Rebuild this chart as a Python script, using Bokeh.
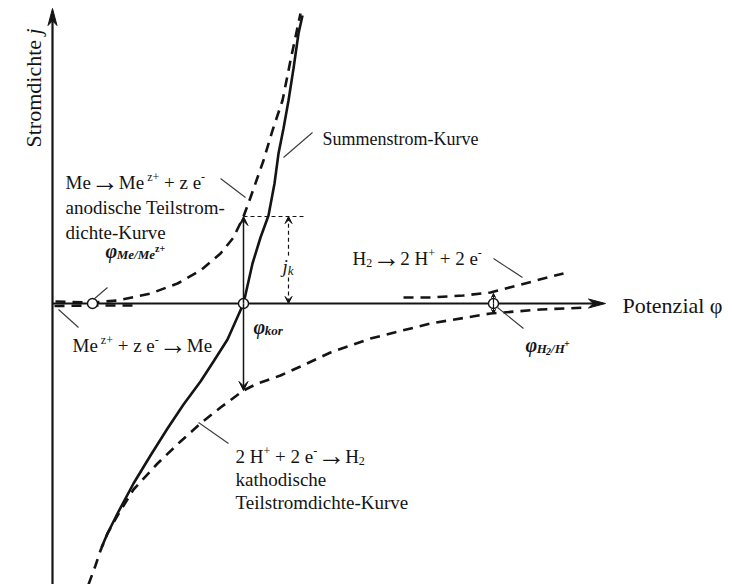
from math import pi

from bokeh.core.properties import value
from bokeh.embed import file_html
from bokeh.models import Arrow, Range1d, VeeHead
from bokeh.plotting import figure
from bokeh.resources import INLINE

# ---------------------------------------------------------------------------
# Evans diagram (schematic units: potential φ, current density j)
# ---------------------------------------------------------------------------

# equilibrium / corrosion potentials on the φ axis
phi_me = 0.40      # φ Me/Me^z+
phi_kor = 1.91     # corrosion potential
phi_h = 4.41       # φ H2/H+
j_k = 0.87         # corrosion current density

# anodic partial curve  Me -> Me^z+ + z e-
anodic_me_phi = [0.03, 0.40, 0.65, 0.98, 1.25, 1.48, 1.68, 1.81, 1.91, 1.98,
                 2.11, 2.20, 2.30, 2.38, 2.45, 2.48]
anodic_me_j = [0.02, 0.01, 0.03, 0.10, 0.20, 0.33, 0.50, 0.66, 0.87, 1.06,
               1.43, 1.73, 2.03, 2.43, 2.76, 2.90]

# cathodic partial curve  Me^z+ + z e- -> Me
cathodic_me_phi = [0.02, 0.40, 0.85]
cathodic_me_j = [-0.025, -0.02, -0.02]

# anodic partial curve  H2 -> 2 H+ + 2 e-
anodic_h_phi = [3.51, 3.78, 4.11, 4.38, 4.65, 4.91, 5.11]
anodic_h_j = [0.06, 0.06, 0.08, 0.11, 0.18, 0.25, 0.30]

# cathodic partial curve  2 H+ + 2 e- -> H2
cathodic_h_phi = [0.36, 0.43, 0.48, 0.55, 0.65, 0.81, 1.05, 1.28, 1.48, 1.68,
                  1.91, 2.05, 2.28, 2.48, 2.78, 3.18, 3.78, 4.38, 4.88, 5.35]
cathodic_h_j = [-2.81, -2.62, -2.47, -2.30, -2.12, -1.86, -1.60, -1.38, -1.20,
                -1.04, -0.87, -0.80, -0.72, -0.63, -0.49, -0.35, -0.20, -0.10,
                -0.06, -0.04]

# total (measured) current density curve
sum_phi = [0.49, 0.55, 0.65, 0.81, 0.98, 1.15, 1.31, 1.48, 1.61, 1.75, 1.91,
           2.00, 2.08, 2.16, 2.22, 2.26, 2.31, 2.36, 2.41, 2.46, 2.50]
sum_j = [-2.44, -2.30, -2.10, -1.80, -1.52, -1.25, -1.01, -0.78, -0.58, -0.36,
         0.00, 0.40, 0.66, 0.88, 1.20, 1.50, 1.75, 2.03, 2.35, 2.70, 2.88]

# axis extents
phi_min, phi_max = -0.52, 6.80
j_min, j_max = -2.81, 3.03
phi_axis_tip = 5.53
j_axis_tip = 2.95

INK = "#141414"
LEADER = "#3a3a3a"
SERIF = "Liberation Serif"
PX = 100.0  # screen pixels per data unit (both directions)

p = figure(width=732, height=584,
           x_range=Range1d(phi_min, phi_max), y_range=Range1d(j_min, j_max),
           x_axis_location=None, y_axis_location=None,
           output_backend="svg", toolbar_location=None, min_border=0)
p.outline_line_color = None
p.grid.grid_line_color = None
p.background_fill_color = "white"
p.border_fill_color = "white"

# Times-compatible advance widths (per 1000 em) for laying out rich text
WIDTHS = {
    " ": 250, "+": 564, "-": 333, "/": 278, "2": 500, "→": 1000, "φ": 560,
    "H": 722, "K": 722, "M": 889, "P": 556, "S": 556, "T": 611,
    "a": 444, "c": 444, "d": 500, "e": 444, "h": 500, "i": 278, "j": 278,
    "k": 500, "l": 278, "m": 778, "n": 500, "o": 500, "r": 333, "s": 389,
    "t": 278, "u": 500, "v": 500, "z": 444,
}


def text_width(s, size):
    return sum(WIDTHS.get(c, 500) for c in s) / 1000.0 * size


def _split(txt, size):
    # leading blanks are collapsed in SVG text, so turn them into an offset
    body = txt.lstrip(" ")
    return body, text_width(txt[:len(txt) - len(body)], size)


def rich(x, y, runs, color=INK):
    """Lay out runs (text, size_px, style, raise_px) along a baseline."""
    for txt, size, style, rise in runs:
        body, lead = _split(txt, size)
        x += lead / PX
        p.text(x=[x], y=[y + rise / PX], text=[body],
               text_font=value(SERIF), text_font_size=value(f"{size}px"),
               text_font_style=style, text_color=color,
               text_align="left", text_baseline="alphabetic")
        x += text_width(body, size) / PX


def rich_vertical(x, y, runs, color=INK):
    """Same as rich(), rotated to read bottom-to-top."""
    for txt, size, style, rise in runs:
        body, lead = _split(txt, size)
        y += lead / PX
        p.text(x=[x - rise / PX], y=[y], text=[body], angle=pi / 2,
               text_font=value(SERIF), text_font_size=value(f"{size}px"),
               text_font_style=style, text_color=color,
               text_align="left", text_baseline="alphabetic")
        y += text_width(body, size) / PX


def arrow_head(tx, ty, dx, dy, length=17, width=9):
    L = length / PX
    W = width / 2 / PX
    bx, by = tx - dx * L, ty - dy * L
    nx, ny = -dy, dx
    xs = [tx, bx + nx * W, tx - dx * L * 0.72, bx - nx * W]
    ys = [ty, by + ny * W, ty - dy * L * 0.72, by - ny * W]
    p.patch(xs, ys, fill_color=INK, line_color=INK, line_width=1)


# ---- coordinate axes -------------------------------------------------------
p.line([0, phi_axis_tip - 0.08], [0, 0], line_color=INK, line_width=2.2)
arrow_head(phi_axis_tip, 0, 1, 0)
p.line([0, 0], [j_min, j_axis_tip - 0.08], line_color=INK, line_width=2.2)
arrow_head(0, j_axis_tip, 0, 1)

# ---- partial current density curves (dashed) -------------------------------
dash = dict(line_color=INK, line_width=2.6, line_dash="10 7")
p.line(anodic_me_phi, anodic_me_j, **dash)
p.line(cathodic_me_phi, cathodic_me_j, **dash)
p.line(anodic_h_phi, anodic_h_j, **dash)
p.line(cathodic_h_phi, cathodic_h_j, **dash)

# ---- total current density curve ------------------------------------------
p.line(sum_phi, sum_j, line_color=INK, line_width=2.6)

# ---- corrosion current construction ---------------------------------------
for tip in (j_k, -j_k):
    p.add_layout(Arrow(end=VeeHead(size=9, line_color=INK, fill_color=INK, line_width=1),
                       x_start=phi_kor, y_start=0, x_end=phi_kor, y_end=tip,
                       line_color=INK, line_width=1.5))
p.line([phi_kor, phi_kor + 0.62], [j_k, j_k], line_color=INK, line_width=1.2,
       line_dash="4 3")
jk_x = phi_kor + 0.45
for start, end in ((j_k * 0.55, j_k), (j_k * 0.30, 0.0)):
    p.add_layout(Arrow(end=VeeHead(size=7, line_color=INK, fill_color=INK, line_width=1),
                       x_start=jk_x, y_start=start, x_end=jk_x, y_end=end,
                       line_color=INK, line_width=1.2, line_dash="4 3"))

# exchange current marks at the hydrogen equilibrium potential
for tip in (0.10, -0.10):
    p.add_layout(Arrow(end=VeeHead(size=4, line_color=INK, fill_color=INK, line_width=1),
                       x_start=phi_h, y_start=0, x_end=phi_h, y_end=tip,
                       line_color=INK, line_width=1.2))

# ---- equilibrium / corrosion points ---------------------------------------
p.scatter([phi_me, phi_kor, phi_h], [0, 0, 0], size=10, fill_color="white",
          line_color=INK, line_width=1.4)

# ---- leader lines ---------------------------------------------------------
leaders = [
    ((1.68, 1.25), (1.93, 1.06)),
    ((0.55, 0.16), (0.41, 0.04)),
    ((0.06, -0.06), (0.26, -0.24)),
    ((2.31, 1.46), (2.60, 1.71)),
    ((4.41, 0.45), (4.70, 0.26)),
    ((4.45, -0.04), (4.71, -0.25)),
    ((1.46, -1.19), (1.76, -1.40)),
]
p.segment(x0=[a[0] for a, b in leaders], y0=[a[1] for a, b in leaders],
          x1=[b[0] for a, b in leaders], y1=[b[1] for a, b in leaders],
          line_color=LEADER, line_width=1.1)

# ---- texts ----------------------------------------------------------------
N, I, BI = "normal", "italic", "bold italic"
F, S, A = 19, 12, 28  # main / script / reaction-arrow font size
UP, DN, AR = 6, -4, 1  # superscript raise / subscript drop / arrow shift (px)

rich_vertical(-0.19, 1.56, [("Stromdichte ", 22, N, 0), ("j", 22, I, 0)])
rich(5.70, -0.02, [("Potenzial φ", 22, N, 0)])

rich(0.13, 1.21, [("Me", F, N, 0), ("→", A, N, AR), ("Me", F, N, 0),
                  (" z+", S, N, UP), (" + z e", F, N, 0), ("-", S, N, UP)])
rich(0.13, 0.96, [("anodische Teilstrom-", F, N, 0)])
rich(0.13, 0.71, [("dichte-Kurve", F, N, 0)])

rich(0.53, 0.53, [("φ", 20, BI, 0), ("Me/Me", 13, BI, -4), ("z+", 10, "bold", 2)])

rich(0.20, -0.42, [("Me", F, N, 0), (" z+", S, N, UP), (" + z e", F, N, 0),
                   ("-", S, N, UP), ("→", A, N, AR), ("Me", F, N, 0)])

rich(2.01, -0.23, [("φ", 20, BI, 0), ("kor", 13, BI, -4)])
rich(2.30, 0.37, [("j", F, I, 0), ("k", 13, I, -4)])

rich(2.70, 1.65, [("Summenstrom-Kurve", 18, N, 0)])

rich(3.00, 0.45, [("H", F, N, 0), ("2", S, N, DN), ("→", A, N, AR),
                  ("2 H", F, N, 0), ("+", S, N, UP), (" + 2 e", F, N, 0),
                  ("-", S, N, UP)])

rich(4.73, -0.41, [("φ", 20, BI, 0), ("H", 13, BI, -4), ("2", 10, BI, -7),
                   ("/H", 13, BI, -4), ("+", 10, BI, 1)])

rich(1.83, -1.53, [("2 H", F, N, 0), ("+", S, N, UP), (" + 2 e", F, N, 0),
                   ("-", S, N, UP), ("→", A, N, AR), ("H", F, N, 0),
                   ("2", S, N, DN)])
rich(1.83, -1.76, [("kathodische", F, N, 0)])
rich(1.83, -1.99, [("Teilstromdichte-Kurve", F, N, 0)])

open("out.html", "w").write(file_html(p, INLINE))
